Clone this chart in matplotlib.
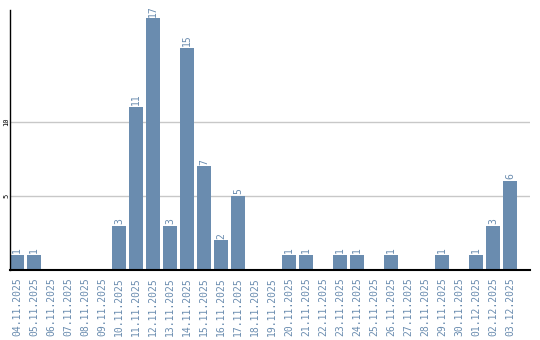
import matplotlib
matplotlib.use("Agg")
import matplotlib.pyplot as plt

dates = ["04.11.2025", "05.11.2025", "06.11.2025", "07.11.2025", "08.11.2025",
         "09.11.2025", "10.11.2025", "11.11.2025", "12.11.2025", "13.11.2025",
         "14.11.2025", "15.11.2025", "16.11.2025", "17.11.2025", "18.11.2025",
         "19.11.2025", "20.11.2025", "21.11.2025", "22.11.2025", "23.11.2025",
         "24.11.2025", "25.11.2025", "26.11.2025", "27.11.2025", "28.11.2025",
         "29.11.2025", "30.11.2025", "01.12.2025", "02.12.2025", "03.12.2025"]
counts = [1, 1, 0, 0, 0, 0, 3, 11, 17, 3, 15, 7, 2, 5, 0, 0, 1, 1, 0, 1, 1, 0, 1, 0, 0, 1, 0, 1, 3, 6]
yticks = [5, 10]

color = "#6a8caf"
W, H = 540, 340
fig = plt.figure(figsize=(W / 100, H / 100), dpi=100)
ax = fig.add_axes([10 / W, (H - 270) / H, 520 / W, 260 / H])

x = list(range(len(dates)))
width = 14 / 17
ax.bar(x, counts, width=width, color=color, zorder=2)
ax.set_xlim(-width / 2, -width / 2 + 520 / 17)
ax.set_ylim(0, 260 / 14.8)

for xi, v in zip(x, counts):
    if v > 0:
        ax.text(xi, v + 0.12, str(v), rotation=90, ha="center", va="bottom",
                color=color, fontsize=7, family="DejaVu Sans Mono")

ax.set_xticks(x)
ax.set_xticklabels(dates, rotation=90, fontsize=7, family="DejaVu Sans Mono", color=color)
ax.set_yticks(yticks)
ax.set_yticklabels([str(t) for t in yticks], rotation=90, fontsize=5, va="center",
                   family="DejaVu Sans Mono")
ax.tick_params(axis="both", length=0)
ax.tick_params(axis="x", pad=5)
ax.tick_params(axis="y", pad=0.5)
ax.grid(axis="y", color="#c8c8c8", linewidth=1, zorder=0)
for s in ["top", "right"]:
    ax.spines[s].set_visible(False)
ax.spines["left"].set_color("black")
ax.spines["bottom"].set_color("black")
ax.spines["bottom"].set_linewidth(1.5)
ax.spines["left"].set_linewidth(1.0)

fig.savefig("out.png", dpi=100)
